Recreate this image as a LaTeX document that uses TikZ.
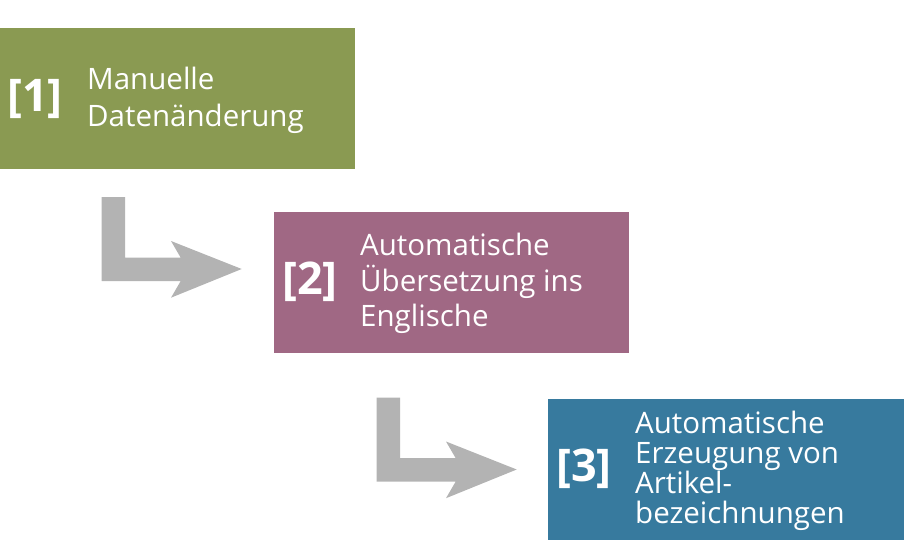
\documentclass[tikz,border=0pt]{standalone}
\usepackage{fontspec}
\setmainfont{Open Sans}
\definecolor{boxgreen}{RGB}{138,154,82}
\definecolor{boxmauve}{RGB}{160,104,132}
\definecolor{boxblue}{RGB}{55,122,158}
\definecolor{arrowgray}{RGB}{179,179,179}
\tikzset{
  stepbox/.style={fill=#1, draw=none, anchor=north west, minimum width=355pt, minimum height=141pt, inner sep=0pt},
  numlabel/.style={text=white, font=\fontsize{45}{48}\selectfont\bfseries, anchor=west, inner sep=0pt},
  steptext/.style={text=white, align=left, anchor=base west, inner sep=0pt},
  grayarrow/.style={fill=arrowgray, draw=none}
}
\begin{document}
\begin{tikzpicture}[x=1pt,y=-1pt]
\useasboundingbox (0,0) rectangle (904,559);
\node[stepbox=boxgreen] (b1) at (0,28) {};
\node[stepbox=boxmauve] (b2) at (274,212) {};
\node[stepbox=boxblue, minimum width=356pt] (b3) at (548,399) {};

\node[numlabel] (n1) at (7,98.5) {[1]};
\node[numlabel] (n2) at (282,282) {[2]};
\node[numlabel] (n3) at (556,469) {[3]};

\node[steptext, font=\fontsize{29.5}{36}\selectfont] (t1) at (87,126) {Manuelle\\Datenänderung};
\node[steptext, font=\fontsize{29.5}{35.5}\selectfont] (t2) at (360,326.5) {Automatische\\Übersetzung ins\\Englische};
\node[steptext, font=\fontsize{29.5}{30}\selectfont] (t3) at (635,523.5) {Automatische\\Erzeugung von\\Artikel-\\bezeichnungen};

\foreach \dx/\dy [count=\i] in {0/0, 275/200.5} {
  \fill[grayarrow] (101.7+\dx,197+\dy) -- (125+\dx,197+\dy) -- (125+\dx,257.7+\dy)
    -- (180.7+\dx,257.7+\dy) -- (171+\dx,241+\dy) -- (241.7+\dx,269+\dy)
    -- (171+\dx,297.7+\dy) -- (180.7+\dx,281+\dy) -- (101.7+\dx,281+\dy) -- cycle;
}
\end{tikzpicture}
\end{document}
